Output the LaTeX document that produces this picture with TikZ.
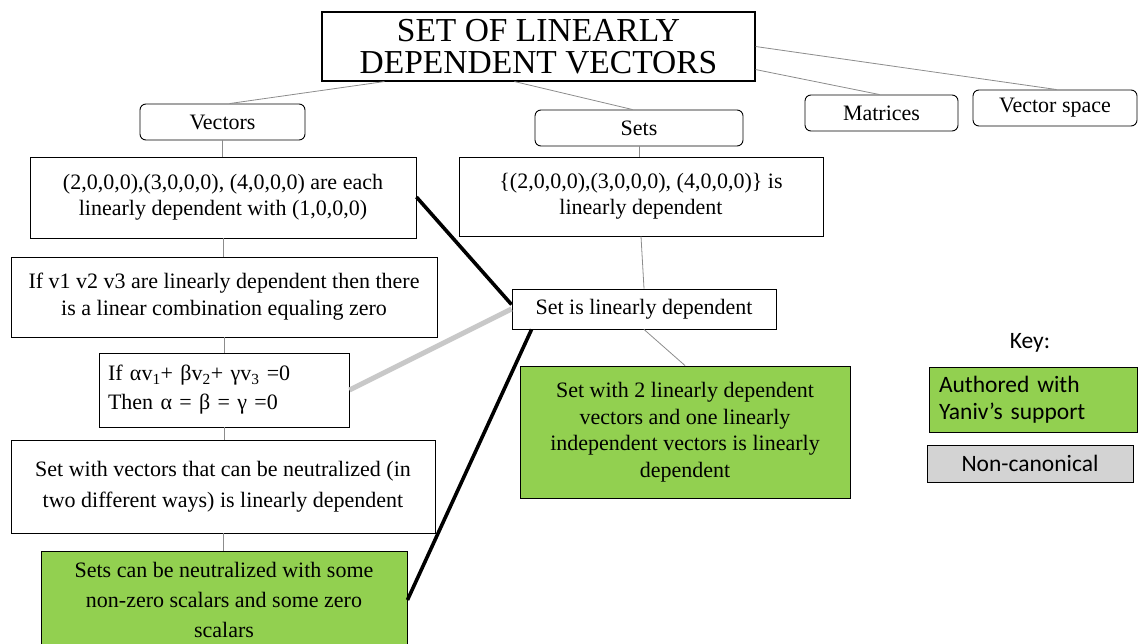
\documentclass[tikz,border=0pt]{standalone}
\usepackage{fontspec}
\setmainfont{Liberation Serif}
\newfontfamily\keyfont{Carlito}
\definecolor{leafgreen}{RGB}{146,208,80}
\definecolor{keygrey}{RGB}{211,211,211}
\definecolor{linkgrey}{RGB}{140,140,140}
\definecolor{softgrey}{RGB}{200,200,200}
\tikzset{
  box/.style={draw, line width=0.9pt, inner sep=0pt, align=center,
    font=\fontsize{22}{26}\selectfont},
  topic/.style={box, rounded corners=6pt},
  greenbox/.style={box, fill=leafgreen},
  link/.style={draw=linkgrey, line width=0.8pt},
  strong/.style={draw=black, line width=3.6pt},
  weak/.style={draw=softgrey, line width=5pt},
}
\begin{document}
\begin{tikzpicture}[x=1pt, y=-1pt]
\useasboundingbox (0,0) rectangle (1142,644);

% title
\node[box, line width=1.1pt, minimum width=433pt, minimum height=69pt,
  font=\fontsize{33.5}{32}\selectfont] (title) at (538.5,46.5)
  {SET OF LINEARLY\\DEPENDENT VECTORS};

% topic boxes
\node[topic, minimum width=165pt, minimum height=36pt] (vec) at (222.5,122) {Vectors};
\node[topic, minimum width=208pt, minimum height=36pt] (sets) at (639,128) {Sets};
\node[topic, minimum width=153pt, minimum height=36pt] (mat) at (881.5,113) {Matrices};
\node[topic, minimum width=164pt, minimum height=36pt] (vs) at (1055,108) {Vector space};

% left column
\node[box, minimum width=386pt, minimum height=81pt] (a) at (223,197.5)
  {(2,0,0,0),(3,0,0,0), (4,0,0,0) are each\\linearly dependent with (1,0,0,0)};
\node[box, minimum width=426pt, minimum height=80pt,
  font=\fontsize{22}{27}\selectfont] (b) at (224,297)
  {If v1 v2 v3 are linearly dependent then there\\is a linear combination equaling zero};
\node[box, minimum height=74pt, text width=232pt, inner xsep=9pt, align=left,
  font=\fontsize{22}{29}\selectfont] (f) at (224,390)
  {If αv\textsubscript{1}+ βv\textsubscript{2}+ γv\textsubscript{3} =0\\Then α = β = γ =0};
\node[box, minimum width=424pt, minimum height=93pt,
  font=\fontsize{22}{31}\selectfont] (c) at (223,486.5)
  {Set with vectors that can be neutralized (in\\two different ways) is linearly dependent};
\node[greenbox, minimum width=366pt, minimum height=98pt,
  font=\fontsize{22}{30}\selectfont] (g2) at (224,600)
  {Sets can be neutralized with some\\non-zero scalars and some zero\\scalars};

% middle column
\node[box, minimum width=364pt, minimum height=79pt] (s1) at (641,196.5)
  {\{(2,0,0,0),(3,0,0,0), (4,0,0,0)\} is\\linearly dependent};
\node[box, minimum width=264pt, minimum height=40pt] (sd) at (644,309)
  {Set is linearly dependent};
\node[greenbox, minimum width=330pt, minimum height=132pt,
  font=\fontsize{22}{26.5}\selectfont] (g1) at (685,432)
  {Set with 2 linearly dependent\\vectors and one linearly\\independent vectors is linearly\\dependent};

% key
\node[font=\keyfont\fontsize{23.5}{27}\selectfont] (key) at (1030,343) {Key:};
\node[greenbox, minimum height=65pt, text width=188pt, inner xsep=10pt, align=left,
  font=\keyfont\fontsize{23.5}{27}\selectfont] (kg) at (1033,399.5)
  {Authored with\\Yaniv’s support};
\node[box, fill=keygrey, minimum width=206pt, minimum height=37pt,
  font=\keyfont\fontsize{23.5}{27}\selectfont] (kn) at (1030,463.5) {Non-canonical};

% links from the title
\draw[link] ([xshift=63pt]title.south west) -- ([xshift=90pt]vec.north west);
\draw[link] ([xshift=193pt]title.south west) -- ([xshift=98pt]sets.north west);
\draw[link] ([yshift=12pt]title.south east) -- ([xshift=75pt]mat.north west);
\draw[link] (title.east) -- ([xshift=84pt]vs.north west);

% left column links
\draw[link] (vec.south) -- (vec.south |- a.north);
\draw[link] (a.south) -- (a.south |- b.north);
\draw[link] (b.south) -- (b.south |- f.north);
\draw[link] (f.south) -- (f.south |- c.north);
\draw[link] (c.south) -- (c.south |- g2.north);

% middle column links
\draw[link] (sets.south) -- (sets.south |- s1.north);
\draw[link] (s1.south) -- (sd.north);
\draw[link] (sd.south) -- (g1.north);

% cross links
\draw[strong] ([yshift=0.5pt]a.east) -- ([yshift=-16pt]sd.north west);
\draw[weak] (f.east) -- (sd.west);
\draw[strong] (g2.east) -- ([xshift=20pt]sd.south west);
\end{tikzpicture}
\end{document}
